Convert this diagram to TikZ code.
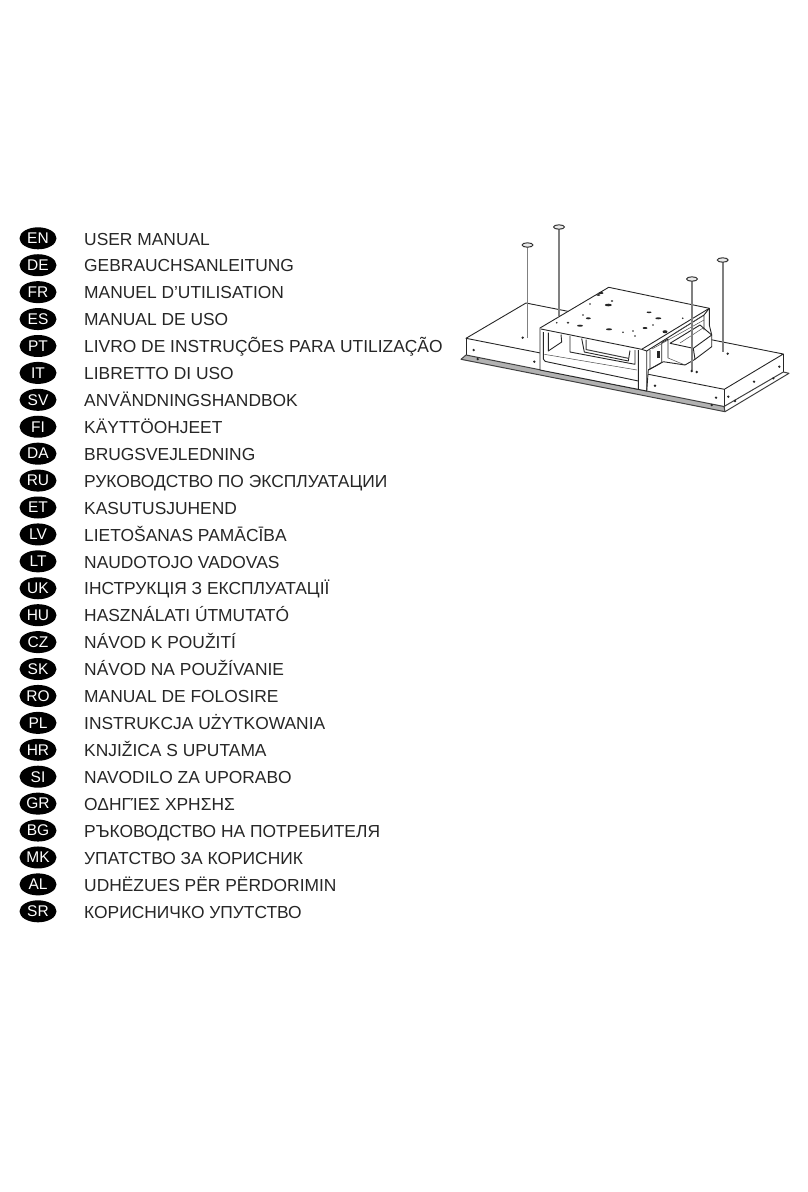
\documentclass[tikz,border=0pt]{standalone}
\usepackage{fontspec}
\usetikzlibrary{shapes.geometric}
\setmainfont{Liberation Sans}
\begin{document}
\begin{tikzpicture}[x=1pt,y=-1pt,line join=round,
    badge/.style={ellipse,fill=black,text=white,minimum width=37pt,minimum height=22pt,inner sep=0pt,font=\fontsize{15.5}{16}\selectfont},
    title/.style={anchor=base west,inner sep=0pt,text=black!85,font=\fontsize{17.4}{20}\selectfont},
    edgeline/.style={draw=black!85,line width=.9pt},
    thinline/.style={draw=black!70,line width=.5pt},
    flangeline/.style={draw=black!75,line width=1pt},
    rodline/.style={draw=black!50,line width=1.6pt},
    hat/.style={draw=black!80,fill=black!8,line width=1pt},
    hole/.style={fill=black!85}]
  \useasboundingbox (0,0) rectangle (808,1192);
  \foreach \code/\name [count=\i from 0] in {EN/USER MANUAL,DE/GEBRAUCHSANLEITUNG,FR/MANUEL D’UTILISATION,
      ES/MANUAL DE USO,PT/LIVRO DE INSTRUÇÕES PARA UTILIZAÇÃO,IT/LIBRETTO DI USO,SV/ANVÄNDNINGSHANDBOK,
      FI/KÄYTTÖOHJEET,DA/BRUGSVEJLEDNING,RU/РУКОВОДСТВО ПО ЭКСПЛУАТАЦИИ,ET/KASUTUSJUHEND,
      LV/LIETOŠANAS PAMĀCĪBA,LT/NAUDOTOJO VADOVAS,UK/ІНСТРУКЦІЯ З ЕКСПЛУАТАЦІЇ,HU/HASZNÁLATI ÚTMUTATÓ,
      CZ/NÁVOD K POUŽITÍ,SK/NÁVOD NA POUŽÍVANIE,RO/MANUAL DE FOLOSIRE,PL/INSTRUKCJA UŻYTKOWANIA,
      HR/KNJIŽICA S UPUTAMA,SI/NAVODILO ZA UPORABO,GR/ΟΔΗΓΊΕΣ ΧΡΗΣΗΣ,BG/РЪКОВОДСТВО НА ПОТРЕБИТЕЛЯ,
      MK/УПАТСТВО ЗА КОРИСНИК,AL/UDHËZUES PËR PËRDORIMIN,SR/КОРИСНИЧКО УПУТСТВО}
  {
    \node[badge] (badge\code) at (38,238.3+\i*26.92) {\code};
    \node[title] (title\code) at (84,245+\i*26.92) {\name};
  }
  % hood body
  \draw[edgeline] (466,338.3) -- (526,303) -- (783.3,354) -- (724.3,389.3) -- cycle;
  \draw[edgeline] (466,338.3) -- (466,355) (724.3,389.3) -- (724.3,410) (783.3,354) -- (783.3,372);
  \draw[flangeline,fill=black!30] (466,355) -- (724,406.5) -- (725,411.7) -- (461,359.3) -- cycle;
  \draw[flangeline] (724,406.5) -- (783.3,372) -- (789,373.3) -- (725,411.7);
  \foreach \x/\y in {473.7/350,477.7/359,534.3/361.7,655/385.7,716/397.7,711.7/405,728.3/396.7,735/401,754/381.7,773.3/378.3,779.3/366.7,
      522.7/337.7,696.7/372,727.7/353.7}
    \fill[hole] (\x,\y) circle (1.3);
  % rods behind the motor
  \draw[rodline] (527.5,245) -- (527.5,338);
  \draw[rodline] (559,227) -- (559,316);
  \draw[rodline] (722.7,260) -- (722.7,352);
  % motor housing
  \draw[edgeline,fill=white] (540,328) -- (608.7,287.3) -- (709.3,308.3) -- (709.3,325) -- (711.7,335) -- (711.7,346.7) -- (695,359.3) -- (685,365) -- (663.3,361.7) -- (648.3,370) -- (646.7,391) -- (540,370) -- cycle;
  \draw[edgeline] (541,329) -- (641.7,349.3) -- (709.3,308.3);
  \draw[edgeline] (646.7,351) -- (704,315) -- (704,330) (709.3,308.3) -- (704,315);
  \draw[edgeline] (641.7,349.3) -- (646.7,351) -- (646.7,391) (638.3,350) -- (638.3,389.5);
  % front panel
  \draw[edgeline,rounded corners=2pt] (543.3,332) -- (543.3,361) -- (638.3,381);
  \draw[thinline] (544.3,354.3) -- (637,370);
  \draw[edgeline] (548.3,332.5) -- (548.3,351) -- (561.7,342) -- (561,334.5);
  \draw[edgeline] (570,336) -- (570,352) -- (635,364.3) -- (635,350);
  \draw[edgeline] (581.7,338.5) -- (584.3,352) -- (628.3,361) -- (630,350.5);
  \draw[flangeline] (586,339.5) -- (586,349.5) -- (628.3,358.3);
  % side of the motor
  \draw[edgeline] (650,350) -- (650,369) (648.3,370) -- (661,363);
  \draw[edgeline] (661.7,342.7) -- (661.7,362.5) (661.7,342.7) -- (668,339) -- (668,358);
  \fill[black!85] (656.5,351) rectangle (660,358);
  \draw[edgeline] (670,343.3) -- (693.3,348.3) -- (695,359.3) (670,343.3) -- (700,325) -- (711.7,335) -- (693.3,348.3);
  \draw[thinline] (680,343) -- (703,328) (675,333) -- (701.7,316.7) (668,358) -- (685,365) (652,349) -- (704,320);
  % holes in the top plate
  \foreach \x/\y/\w/\h in {608.3/305/3.5/1.3,598.3/295/2/.8,588.3/318.3/2.5/1,580/325.7/3/1,609/329.3/3/1,645/328/2.5/1,649/312.3/2.5/.8,658.3/318.3/3/1,
      568/322.7/1.3/1,556.7/322.7/.9/.9,590/304/.9/.9,583/315/.9/.9,623/332.3/.9/.9,633/331/.9/.9,635/336/.9/.9,653/325/.9/.9,682.7/318.3/.9/.9,665/331.7/2.5/1.5,601/293/2.5/1,612/301/1.3/.9}
    \fill[hole] (\x,\y) ellipse ({\w} and {\h});
  % rod in front and the heads
  \draw[rodline] (692,279) -- (692,370);
  \fill[hole] (691.7,371) circle (1.3);
  \foreach \x/\y in {527.5/245,559/227,692/279,722.7/260}
    \draw[hat] (\x,\y) ellipse (5.5 and 2.2);
\end{tikzpicture}
\end{document}
